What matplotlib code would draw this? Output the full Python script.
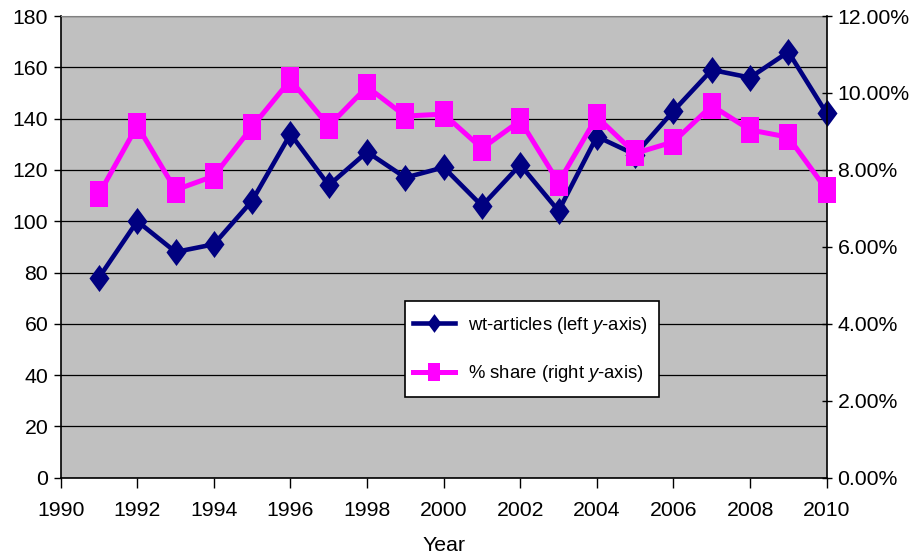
import matplotlib
matplotlib.use("Agg")
import matplotlib.pyplot as plt
from matplotlib.ticker import FuncFormatter, MultipleLocator
from matplotlib.lines import Line2D
from matplotlib.patches import Rectangle

plt.rcParams['font.family'] = ['Liberation Sans', 'DejaVu Sans']
plt.rcParams['mathtext.fontset'] = 'custom'
plt.rcParams['mathtext.it'] = 'Liberation Sans:italic'
plt.rcParams['mathtext.rm'] = 'Liberation Sans'

years = list(range(1991, 2011))
wt_articles = [78, 100, 88, 91, 108, 134, 114, 127, 117, 121,
               106, 122, 104, 133, 126, 143, 159, 156, 166, 142]
pct_share = [7.37, 9.15, 7.48, 7.84, 9.12, 10.34, 9.14, 10.16, 9.40, 9.45,
             8.56, 9.28, 7.67, 9.38, 8.43, 8.73, 9.67, 9.04, 8.85, 7.48]

navy = '#000080'
pink = '#FF00FF'

# taller-than-wide markers, like the original export
diamond = [(0, 1), (0.74, 0), (0, -1), (-0.74, 0), (0, 1)]
rect = [(-0.69, -1), (0.69, -1), (0.69, 1), (-0.69, 1), (-0.69, -1)]

fig = plt.figure(figsize=(9.22, 5.54), dpi=100)
ax = fig.add_axes([0.0658, 0.1377, 0.8308, 0.8334])
ax.set_facecolor('#C0C0C0')

ax.plot(years, wt_articles, color=navy, lw=3.3, marker=diamond,
        markersize=19.5, markeredgewidth=0, zorder=3, clip_on=False)
ax.set_xlim(1990, 2010)
ax.set_ylim(0, 180)
ax.yaxis.set_major_locator(MultipleLocator(20))
ax.xaxis.set_major_locator(MultipleLocator(2))
ax.grid(axis='y', color='black', lw=0.9)
ax.set_axisbelow(True)
ax.tick_params(axis='both', labelsize=15.3, direction='out', width=1,
               colors='black')
ax.tick_params(axis='x', length=7, pad=10)
ax.tick_params(axis='y', length=5, pad=4)
ax.spines['top'].set_color('#808080')
ax.spines['right'].set_visible(False)
for s in ('left', 'bottom'):
    ax.spines[s].set_linewidth(1.2)
ax.set_xlabel('Year', fontsize=15.3, labelpad=11)

ax2 = ax.twinx()
ax2.plot(years, [v / 100 for v in pct_share], color=pink, lw=3.6,
         marker=rect, markersize=18.7, markeredgewidth=0, zorder=3,
         clip_on=False)
ax2.set_ylim(0, 0.12)
ax2.yaxis.set_major_locator(MultipleLocator(0.02))
ax2.yaxis.set_major_formatter(FuncFormatter(lambda v, p: f'{v * 100:.2f}%'))
ax2.tick_params(axis='y', labelsize=15.3, direction='inout', length=7.5,
                width=1, pad=4)
for s in ('top', 'left', 'bottom'):
    ax2.spines[s].set_visible(False)
ax2.spines['right'].set_linewidth(1.2)

# legend box drawn separately so the padding can match the original
ax2.add_patch(Rectangle((0.4495, 0.175), 0.3315, 0.208, transform=ax2.transAxes,
                        facecolor='white', edgecolor='black', lw=1.2,
                        zorder=4))
handles = [
    Line2D([], [], color=navy, lw=3.3, marker=diamond, markersize=13.5,
           markeredgewidth=0),
    Line2D([], [], color=pink, lw=3.6, marker=rect, markersize=13,
           markeredgewidth=0),
]
labels = ['wt-articles (left $\\mathit{y}$-axis)',
          '% share (right $\\mathit{y}$-axis)']
leg = ax2.legend(handles, labels, loc='center left',
                 bbox_to_anchor=(0.4595, 0.2777), fontsize=13.3,
                 frameon=False, labelspacing=1.5, handlelength=2.3,
                 handletextpad=0.7, borderpad=0, borderaxespad=0)
leg.set_zorder(5)

fig.savefig('out.png', dpi=100)
